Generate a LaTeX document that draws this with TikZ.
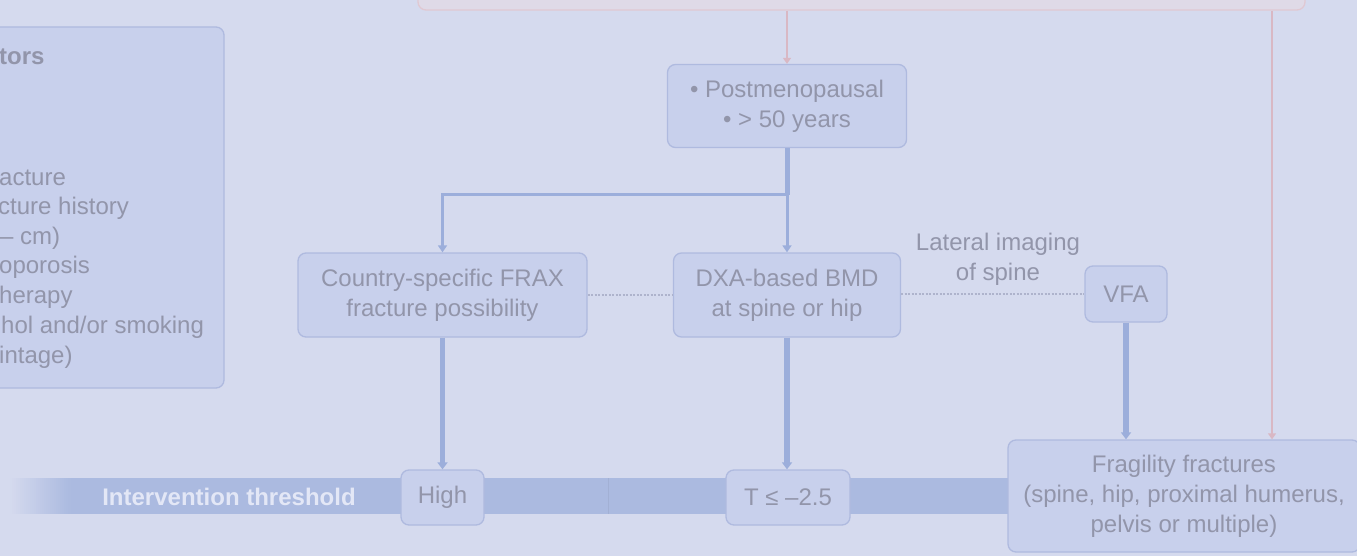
\documentclass[tikz,border=0pt]{standalone}
\usepackage{fontspec}
\setmainfont{Liberation Sans}
\usetikzlibrary{arrows.meta}
\definecolor{bg}{HTML}{D5DAEE}
\definecolor{boxfill}{HTML}{C8D0EC}
\definecolor{boxline}{HTML}{AFBADF}
\definecolor{txt}{HTML}{9295AA}
\definecolor{lineblue}{HTML}{9CAEDB}
\definecolor{band}{HTML}{ABBAE0}
\definecolor{pinkline}{HTML}{D9B8C4}
\definecolor{topfill}{HTML}{DFDAE7}
\definecolor{topline}{HTML}{E0C8D2}
\definecolor{dotc}{HTML}{AEB3CC}
\definecolor{bandtxt}{HTML}{E3E7F6}
\tikzset{
  txtfont/.style={font=\fontsize{24}{30}\selectfont, text=txt},
  fbox/.style={draw=boxline, line width=1.3pt, fill=boxfill, rounded corners=8pt,
    txtfont, align=center, inner sep=0pt},
  thickarr/.style={draw=lineblue, line width=5.5pt, -{Triangle[width=10pt,length=7pt]}},
  thinarr/.style={draw=lineblue, line width=3pt, -{Triangle[width=9pt,length=7pt]}},
  stemline/.style={draw=lineblue, line width=5pt},
  pinkarr/.style={draw=pinkline, line width=2.5pt, -{Triangle[width=8pt,length=6pt]}},
  dotline/.style={draw=dotc, line width=1.6pt, dash pattern=on 2pt off 1.5pt},
  frag/.style={anchor=west, txtfont, inner sep=0pt}
}
\begin{document}
\begin{tikzpicture}[x=1pt,y=-1pt]
\useasboundingbox (0,0) rectangle (1357,556);
\clip (0,0) rectangle (1357,556);
\fill[bg] (0,0) rectangle (1357,556);

% intervention threshold band (fading in from the left)
\fill[band] (70,478) rectangle (1010,514);
\foreach \i in {0,...,29}{
  \pgfmathsetmacro{\p}{(\i+0.5)*100/30}
  \fill[band!\p!bg] ({10+2*\i},478) rectangle ({12.6+2*\i},514);
}
\draw[draw=band!80!black, line width=0.6pt, opacity=0.25] (608,478) -- (608,514);
\node[font=\fontsize{24}{30}\selectfont\bfseries, text=bandtxt, inner sep=0pt] (thr) at (229,497) {Intervention threshold};

% top box (cut off)
\node[draw=topline, fill=topfill, line width=1.3pt, rounded corners=8pt,
      minimum width=887pt, minimum height=60pt, inner sep=0pt] (top) at (861.5,-20) {};

% risk factors box (cut off at left)
\node[fbox, minimum width=254pt, minimum height=361pt] (risk) at (97,207.5) {};
\node[frag, font=\fontsize{24}{30}\selectfont\bfseries] (r0) at (-1,57) {tors};
\node[frag] (r1) at (-1,178) {acture};
\node[frag] (r2) at (-2,208) {cture history};
\node[frag] (r3) at (0,238) {– cm)};
\node[frag] (r4) at (-1,267) {oporosis};
\node[frag] (r5) at (-1,297) {herapy};
\node[frag] (r6) at (1,327) {hol and/or smoking};
\node[frag] (r7) at (-1,357) {intage)};

% main boxes
\node[fbox, minimum width=239pt, minimum height=83pt] (pm) at (787,106) {• Postmenopausal\\• > 50 years};
\node[fbox, minimum width=289pt, minimum height=84pt] (frax) at (442.5,295) {Country-specific FRAX\\fracture possibility};
\node[fbox, minimum width=227pt, minimum height=84pt] (dxa) at (787,295) {DXA-based BMD\\at spine or hip};
\node[fbox, minimum width=82pt, minimum height=56pt] (vfa) at (1126,294) {VFA};
\node[fbox, minimum width=83pt, minimum height=55pt] (high) at (442.5,497.5) {High};
\node[fbox, minimum width=124pt, minimum height=55pt] (tb) at (788,497.5) {T ≤ –2.5};
\node[fbox, minimum width=352pt, minimum height=112pt] (fr) at (1184,496) {Fragility fractures\\(spine, hip, proximal humerus,\\pelvis or multiple)};

\node[txtfont, align=center, inner sep=0pt] (lat) at (998,259) {Lateral imaging\\of spine};

% pink connectors
\coordinate (c2) at (1272,0);
\draw[pinkarr] (top.south -| pm.north) -- (pm.north);
\draw[pinkarr] (top.south -| c2) -- (fr.north -| c2);

% branch from postmenopausal
\coordinate (j) at (787,195);
\draw[stemline] (pm.south) -- (j);
\draw[thinarr] (j) -- (dxa.north);
\draw[thinarr] (j) -| (frax.north);

% dotted links
\draw[dotline] (frax.east) -- (dxa.west);
\draw[dotline] (dxa.east |- vfa.west) -- (vfa.west);

% thick arrows down
\draw[thickarr] (frax.south) -- (high.north);
\draw[thickarr] (dxa.south) -- (tb.north -| dxa.south);
\draw[thickarr] (vfa.south) -- (fr.north -| vfa.south);
\end{tikzpicture}
\end{document}
